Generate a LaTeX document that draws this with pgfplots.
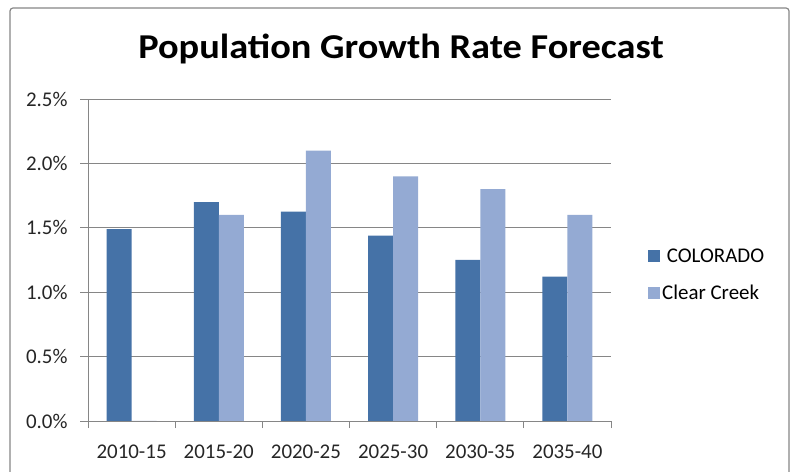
\documentclass[border=0pt]{standalone}
\usepackage{pgfplots}
\pgfplotsset{compat=1.18}
\usepackage{fontspec}
\setmainfont{Carlito}
\definecolor{colA}{HTML}{4572A7}
\definecolor{colB}{HTML}{94AAD3}
\definecolor{gridc}{HTML}{868686}
\newcommand{\xs}[1]{\scalebox{1.0}[1]{#1}}
\begin{document}
\begin{tikzpicture}
\useasboundingbox (0,0) rectangle (792bp,472bp);
\begin{scope}
\clip (0,0) rectangle (792bp,472bp);
\draw[gridc, line width=1.2bp, rounded corners=3bp] (10bp,-10bp) rectangle (789bp,464bp);
\end{scope}
\node[font=\fontsize{35}{40}\selectfont\bfseries, anchor=base] at (401bp,413bp) {\scalebox{1.1}[1]{Population Growth Rate Forecast}};
\begin{axis}[
  at={(88bp,51bp)}, anchor=south west,
  width=523bp, height=322bp, scale only axis,
  ybar=0pt, bar width=25bp,
  xmin=-0.5, xmax=5.5, ymin=0, ymax=2.5,
  xtick={0,...,5},
  xticklabels={\xs{2010-15},\xs{2015-20},\xs{2020-25},\xs{2025-30},\xs{2030-35},\xs{2035-40}},
  major x tick style={draw=none},
  minor xtick={-0.5,0.5,...,5.5},
  minor x tick style={gridc, line width=0.8bp},
  minor tick length=7bp,
  ytick={0,0.5,...,2.5},
  yticklabel={\pgfmathprintnumber[fixed,fixed zerofill,precision=1]{\tick}\%},
  /pgf/number format/assume math mode=true,
  major tick length=8bp,
  tick align=outside,
  ymajorgrids,
  grid style={gridc, line width=0.8bp},
  axis lines*=left,
  axis line style={gridc, line width=0.8bp, -},
  y tick style={gridc, line width=0.8bp},
  ticklabel style={font=\fontsize{21}{24}\selectfont, text=black!85},
  xticklabel style={yshift=-12bp},
  yticklabel style={xshift=-9bp},
  legend style={at={(1.065,0.455)}, anchor=west, draw=none, fill=none,
    font=\fontsize{21}{24}\selectfont, row sep=17bp,
    legend cell align=left},
  legend image code/.code={\fill[#1] (0bp,-6bp) rectangle (12bp,6bp);},
]
\addplot[fill=colA, draw=none] coordinates {(0,1.49) (1,1.70) (2,1.625) (3,1.44) (4,1.25) (5,1.12)};
\addplot[fill=colB, draw=none] coordinates {(0,0) (1,1.60) (2,2.10) (3,1.90) (4,1.80) (5,1.60)};
\legend{\ COLORADO, Clear Creek}
\end{axis}
\end{tikzpicture}
\end{document}
